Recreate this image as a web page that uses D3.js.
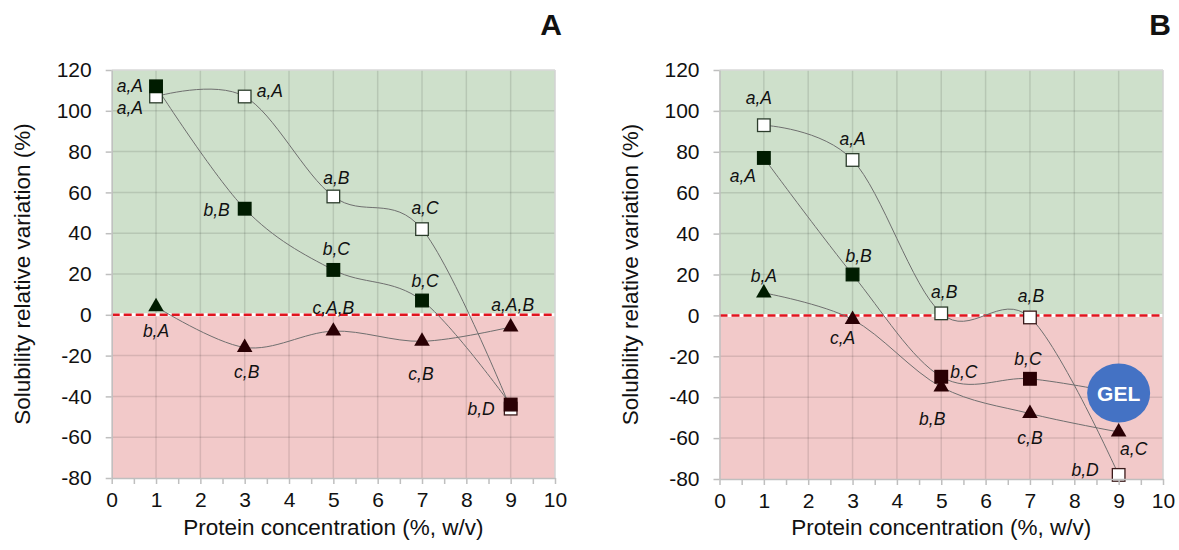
<!DOCTYPE html>
<html>
<head>
<meta charset="utf-8">
<script src="https://cdn.jsdelivr.net/npm/d3@7/dist/d3.min.js"></script>
<style>
  body { margin: 0; background: #fff; }
  svg { display: block; font-family: "Liberation Sans", Arial, sans-serif; }
  .lbl { font-style: italic; font-size: 17.5px; fill: #111; }
  .axis text { font-size: 21px; fill: #111; font-family: "Liberation Sans", Arial, sans-serif; }
  .axis path, .axis line { stroke: #bfbfbf; stroke-width: 1.5; }
  .title { font-size: 22.5px; fill: #111; }
</style>
</head>
<body>
<div id="chart"></div>
<script>
var width = 1179, height = 550;

// data (x = protein concentration, % w/v)
var concentrations = [1, 3, 5, 7, 9];

var openA   = [107, 107, 58, 42, -46];
var filledA = [112, 52, 22, 7, -44];
var triA    = [4, -16, -8, -13, -6];

var openB   = [93, 76, 1, -1, -78];
var filledB = [77, 20, -30, -31];
var triB    = [11, -2, -35, -48, -57];
var gelB    = { x: 9, y: -38 };

var openLabelsA   = ["a,A", "a,A", "a,B", "a,C", "b,D"];
var filledLabelsA = ["a,A", "b,B", "b,C", "b,C", ""];
var triLabelsA    = ["b,A", "c,B", "c,A,B", "c,B", "a,A,B"];

var openLabelsB   = ["a,A", "a,A", "a,B", "a,B", "b,D"];
var filledLabelsB = ["a,A", "b,B", "b,C", "b,C"];
var triLabelsB    = ["b,A", "c,A", "b,B", "c,B", "a,C"];

var yTicks = [-80, -60, -40, -20, 0, 20, 40, 60, 80, 100, 120];
var xTicks = [0, 1, 2, 3, 4, 5, 6, 7, 8, 9, 10];

// label placement: [dx, dy(baseline), anchor]
var openPosA   = [[-13, 17, "end"], [12, 0, "start"], [3, -12, "middle"], [3, -15, "middle"], [-16, 6, "end"]];
var filledPosA = [[-13, 6, "end"], [-15, 7, "end"], [3, -15, "middle"], [3, -14, "middle"], [0, 0, "middle"]];
var triPosA    = [[0, 30, "middle"], [2, 31, "middle"], [0, -17, "middle"], [-1, 39, "middle"], [2, -16, "middle"]];

var openPosB   = [[-5, -21, "middle"], [0, -15, "middle"], [3, -15, "middle"], [1, -15, "middle"], [-20, 1, "end"]];
var filledPosB = [[-21, 24, "middle"], [6, -13, "middle"], [9, 1, "start"], [-2, -14, "middle"]];
var triPosB    = [[0, -11, "middle"], [-10, 25, "middle"], [-9, 38, "middle"], [0, 30, "middle"], [15, 23, "middle"]];

var svg = d3.select("#chart").append("svg")
  .attr("width", width)
  .attr("height", height);

drawPanel({
  left: 111.7, right: 555, top: 70, bottom: 478,
  letter: "A", letterX: 551,
  series: [
    { values: openA, labels: openLabelsA, pos: openPosA, type: "open" },
    { values: filledA, labels: filledLabelsA, pos: filledPosA, type: "filled" },
    { values: triA, labels: triLabelsA, pos: triPosA, type: "tri" }
  ]
});

drawPanel({
  left: 719.5, right: 1163, top: 70, bottom: 479,
  letter: "B", letterX: 1160,
  gel: gelB,
  series: [
    { values: openB, labels: openLabelsB, pos: openPosB, type: "open" },
    { values: filledB, labels: filledLabelsB, pos: filledPosB, type: "filled", toGel: true },
    { values: triB, labels: triLabelsB, pos: triPosB, type: "tri" }
  ]
});

function drawPanel(p) {
  var x = d3.scaleLinear().domain([0, 10]).range([p.left, p.right]);
  var y = d3.scaleLinear().domain([-80, 120]).range([p.bottom, p.top]);
  var g = svg.append("g");

  // background zones
  g.append("rect")
    .attr("x", x(0)).attr("y", y(120))
    .attr("width", x(10) - x(0)).attr("height", y(0) - y(120))
    .attr("fill", "#cee0cb");
  g.append("rect")
    .attr("x", x(0)).attr("y", y(0))
    .attr("width", x(10) - x(0)).attr("height", y(-80) - y(0))
    .attr("fill", "#f2c9c9");

  // grid
  g.selectAll(".vgrid")
    .data(xTicks.slice(1))
    .enter().append("line")
      .attr("x1", x).attr("x2", x)
      .attr("y1", y(120)).attr("y2", y(-80))
      .attr("stroke", "rgba(0,0,0,0.11)")
      .attr("stroke-width", 1.5);
  g.selectAll(".hgrid")
    .data(yTicks.slice(1))
    .enter().append("line")
      .attr("x1", x(0)).attr("x2", x(10))
      .attr("y1", y).attr("y2", y)
      .attr("stroke", function(d) { return d === 120 ? "#d9d9d9" : "rgba(0,0,0,0.11)"; })
      .attr("stroke-width", 1.5);

  // zero line
  g.append("line")
    .attr("x1", x(0)).attr("x2", x(10))
    .attr("y1", y(0)).attr("y2", y(0))
    .attr("stroke", "#fff").attr("stroke-width", 3);
  g.append("line")
    .attr("x1", x(0)).attr("x2", x(10))
    .attr("y1", y(0)).attr("y2", y(0))
    .attr("stroke", "#e0141e").attr("stroke-width", 2.5)
    .attr("stroke-dasharray", "8,4");

  var line = d3.line()
    .x(function(d) { return x(d[0]); })
    .y(function(d) { return y(d[1]); })
    .curve(d3.curveCatmullRom.alpha(0));

  p.series.forEach(function(s) {
    var pts = s.values.map(function(v, i) { return [concentrations[i], v]; });
    if (s.toGel) pts.push([p.gel.x, p.gel.y]);
    g.append("path")
      .datum(pts)
      .attr("d", line)
      .attr("fill", "none")
      .attr("stroke", "#6f6f6f")
      .attr("stroke-width", 1);
  });

  if (p.gel) {
    g.append("ellipse")
      .attr("cx", x(p.gel.x)).attr("cy", y(p.gel.y))
      .attr("rx", 31.5).attr("ry", 29.5)
      .attr("fill", "#4472c4");
    g.append("text")
      .attr("x", x(p.gel.x)).attr("y", y(p.gel.y))
      .attr("dy", "0.36em")
      .attr("text-anchor", "middle")
      .attr("fill", "#fff")
      .attr("font-weight", "bold")
      .attr("font-size", 21)
      .text("GEL");
  }

  function dark(v) { return v >= 0 ? "#001c00" : "#2a0004"; }

  p.series.forEach(function(s) {
    var pts = s.values.map(function(v, i) { return [concentrations[i], v]; });
    var m = g.selectAll(null).data(pts).enter();
    if (s.type === "tri") {
      m.append("path")
        .attr("d", d3.symbol().type(d3.symbolTriangle).size(105))
        .attr("transform", function(d) { return "translate(" + x(d[0]) + "," + y(d[1]) + ")"; })
        .attr("fill", function(d) { return dark(d[1]); });
    } else {
      m.append("rect")
        .attr("x", function(d) { return x(d[0]) - 6.3; })
        .attr("y", function(d) { return y(d[1]) - 6.3; })
        .attr("width", 12.6).attr("height", 12.6)
        .attr("fill", function(d) { return s.type === "open" ? "#fff" : dark(d[1]); })
        .attr("stroke", function(d) { return s.type === "open" ? (d[1] >= 0 ? "#2c3d2c" : "#3a1a1a") : dark(d[1]); })
        .attr("stroke-width", 1.3);
    }
    g.selectAll(null).data(pts).enter().append("text")
      .attr("class", "lbl")
      .attr("x", function(d, i) { return x(d[0]) + s.pos[i][0]; })
      .attr("y", function(d, i) { return y(d[1]) + s.pos[i][1]; })
      .attr("text-anchor", function(d, i) { return s.pos[i][2]; })
      .text(function(d, i) { return s.labels[i]; });
  });

  // plot border (right)
  g.append("line")
    .attr("x1", x(10)).attr("x2", x(10))
    .attr("y1", y(120)).attr("y2", y(-80))
    .attr("stroke", "#d9d9d9").attr("stroke-width", 1.5);

  // axes
  g.append("g")
    .attr("class", "axis")
    .attr("transform", "translate(" + x(0) + ",0)")
    .call(d3.axisLeft(y).tickValues(yTicks).tickSize(6).tickPadding(14).tickSizeOuter(0)
      .tickFormat(function(d) { return String(d); }));

  g.append("g")
    .attr("class", "axis")
    .attr("transform", "translate(0," + y(-80) + ")")
    .call(d3.axisBottom(x).tickValues(d3.range(0, 10.01, 0.5))
      .tickFormat(function(d) { return Number.isInteger(d) ? String(d) : ""; })
      .tickSize(6).tickPadding(8).tickSizeOuter(0));

  // titles
  g.append("text")
    .attr("class", "title")
    .attr("x", (p.left + p.right) / 2)
    .attr("y", 535)
    .attr("text-anchor", "middle")
    .text("Protein concentration (%, w/v)");
  g.append("text")
    .attr("class", "title")
    .attr("transform", "translate(" + (p.left - 82) + "," + ((y(120) + y(-80)) / 2) + ") rotate(-90)")
    .attr("text-anchor", "middle")
    .text("Solubility relative variation (%)");

  g.append("text")
    .attr("x", p.letterX).attr("y", 35)
    .attr("text-anchor", "middle")
    .attr("font-weight", "bold")
    .attr("font-size", 30)
    .attr("fill", "#111")
    .text(p.letter);
}
</script>
</body>
</html>
